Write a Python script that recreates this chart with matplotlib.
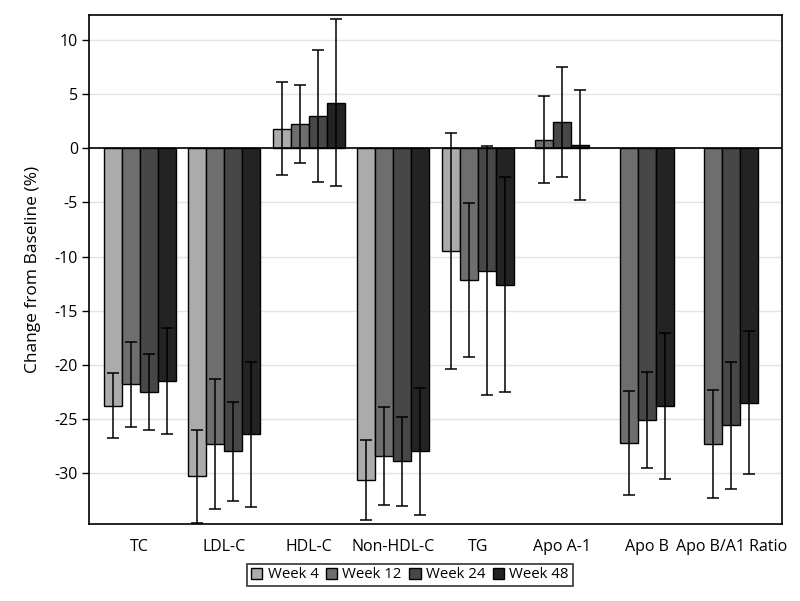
import matplotlib
matplotlib.use("Agg")
import matplotlib.pyplot as plt
import numpy as np

plt.rcParams['font.family'] = ['Open Sans', 'DejaVu Sans']
plt.rcParams['axes.unicode_minus'] = False

categories = ["TC", "LDL-C", "HDL-C", "Non-HDL-C", "TG", "Apo A-1", "Apo B", "Apo B/A1 Ratio"]
series = ["Week 4", "Week 12", "Week 24", "Week 48"]
colors = ["#ababab", "#6e6e6e", "#474747", "#232323"]

week4 = [-23.8, -30.3, 1.8, -30.6, -9.5, None, None, None]
week12 = [-21.8, -27.3, 2.2, -28.4, -12.2, 0.8, -27.2, -27.3]
week24 = [-22.5, -28.0, 3.0, -28.9, -11.3, 2.4, -25.1, -25.6]
week48 = [-21.5, -26.4, 4.2, -28.0, -12.6, 0.3, -23.8, -23.5]

err4 = [3.0, 4.3, 4.3, 3.7, 10.9, None, None, None]
err12 = [3.95, 6.0, 3.6, 4.5, 7.1, 4.0, 4.8, 5.0]
err24 = [3.5, 4.6, 6.1, 4.1, 11.5, 5.1, 4.4, 5.9]
err48 = [4.9, 6.7, 7.7, 5.9, 9.9, 5.1, 6.7, 6.6]

values = [week4, week12, week24, week48]
errors = [err4, err12, err24, err48]

fig = plt.figure(figsize=(8.0, 6.01), dpi=100)
ax = fig.add_axes([89/800, 1-524/601, (782-89)/800, (524-15)/601])

w = 0.213
for i, cat in enumerate(categories):
    avail = [s for s in range(4) if values[s][i] is not None]
    n = len(avail)
    for k, s in enumerate(avail):
        x = i + (k - (n - 1) / 2) * w
        ax.bar(x, values[s][i], width=w, color=colors[s], edgecolor="black",
               linewidth=1.0, zorder=3)
        ax.errorbar(x, values[s][i], yerr=errors[s][i], fmt="none", ecolor="black",
                    elinewidth=1.1, capsize=4.3, capthick=1.1, zorder=4)

# legend handles
for s in range(4):
    ax.bar(np.nan, np.nan, color=colors[s], edgecolor="black", linewidth=1.0, label=series[s])

ax.axhline(0, color="black", linewidth=1.2, zorder=5)
ax.set_xlim(-0.6, 7.6)
ax.set_ylim(-34.7, 12.3)
ax.set_yticks(np.arange(-30, 11, 5))
ax.set_yticklabels([str(v) for v in range(-30, 11, 5)])
ax.set_xticks(range(len(categories)))
ax.set_xticklabels(categories)
ax.tick_params(axis="x", length=0, pad=11, labelsize=11.5)
ax.tick_params(axis="y", length=5, width=1, labelsize=11.5, pad=3)
ax.yaxis.grid(True, color="#e4e4e4", linewidth=1.0, zorder=0)
ax.set_axisbelow(True)
for sp in ax.spines.values():
    sp.set_linewidth(1.2)
ax.set_ylabel("Change from Baseline (%)", fontsize=12.5, labelpad=10)

leg = fig.legend(loc="center", bbox_to_anchor=(410/800, 1-575/601), ncol=4,
                 frameon=True, fancybox=False, edgecolor="black", fontsize=10.8,
                 handlelength=0.75, handleheight=0.75, handletextpad=0.35,
                 columnspacing=0.5, borderpad=0.25, borderaxespad=0)
leg.get_frame().set_linewidth(1.2)

fig.savefig("out.png", dpi=100)
